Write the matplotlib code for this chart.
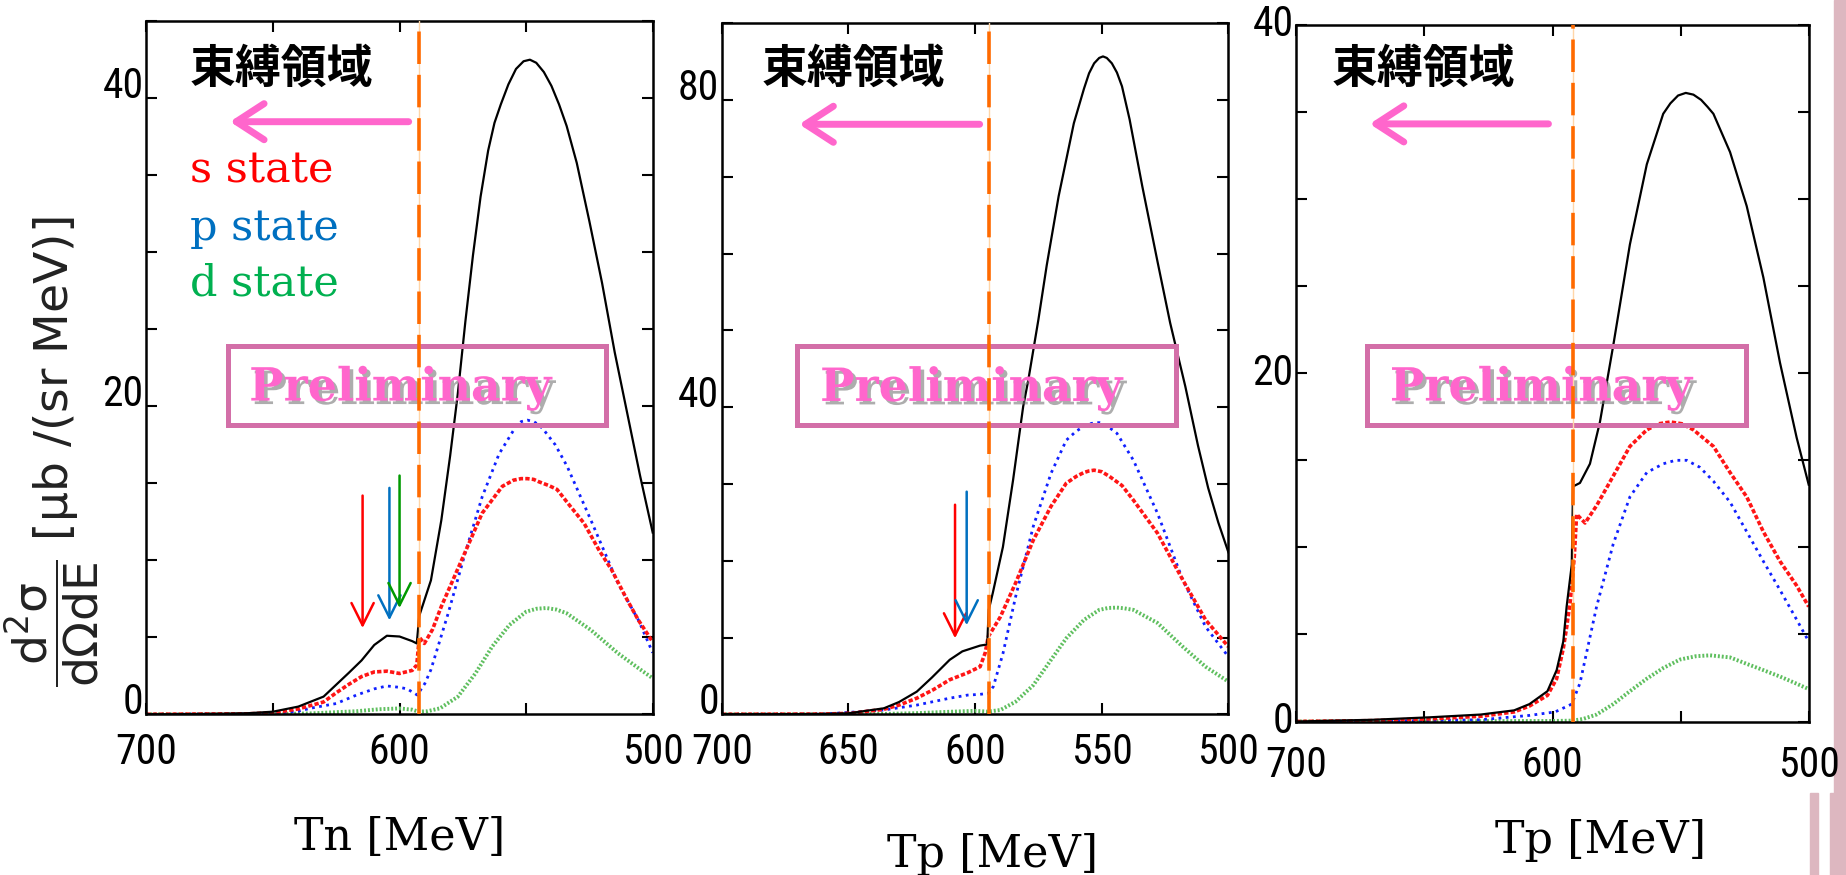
import matplotlib
matplotlib.use('Agg')
import matplotlib.pyplot as plt
import matplotlib.patheffects as pe
from matplotlib import font_manager
from matplotlib.patches import Rectangle

# ---- data ----
# panel 1 (Tn)
p1_blk_E = [700, 690, 680, 670, 660, 650, 640, 630, 620, 615, 610, 605, 600, 595, 593.2, 592.2, 591, 587.6,
            583.5, 580, 577, 574, 571, 568, 565, 562.5, 560, 557, 554, 551, 548.5, 546, 543, 540, 537, 534,
            530, 525, 520, 515, 510, 505, 500]
p1_blk_v = [0, 0, 0.02, 0.04, 0.07, 0.17, 0.5, 1.15, 2.7, 3.5, 4.5, 5.1, 5.05, 4.75, 4.6, 6.4, 7.0, 8.7,
            12.6, 16.8, 20.8, 25.5, 29.8, 33.6, 36.6, 38.4, 39.6, 40.9, 41.9, 42.4, 42.5, 42.3, 41.7, 40.8, 39.6, 38.2,
            35.8, 32, 28, 23.5, 19.5, 15.5, 11.8]
p1_red_E = [700, 660, 650, 640, 630, 625, 620, 615, 610, 605, 600, 595, 593.2, 592.2, 590.2, 587, 583.5,
            575.5, 567.4, 559.4, 555, 552, 549.5, 547, 545, 541, 537.8, 533, 527.1, 521, 516.3, 510, 505.6, 500]
p1_red_v = [0, 0.03, 0.1, 0.35, 0.8, 1.4, 1.95, 2.45, 2.75, 2.8, 2.65, 2.85, 3.2, 5.0, 4.6, 5.5, 7.0,
            10.0, 13.05, 14.8, 15.2, 15.3, 15.3, 15.25, 15.1, 14.85, 14.6, 13.6, 12.4, 10.6, 9.4, 7.4, 6.1, 4.7]
p1_blu_E = [700, 660, 650, 640, 635, 625, 617, 610, 605, 600, 597, 593, 590, 587.6, 580.8, 574.1, 567.4,
            560.7, 554, 552, 549.5, 547, 545, 543.2, 538.5, 533.8, 524.4, 513.7, 505.6, 500]
p1_blu_v = [0, 0.02, 0.05, 0.2, 0.4, 0.7, 1.25, 1.65, 1.84, 1.75, 1.65, 1.25, 2.0, 2.9, 6.55, 10.45, 14.1,
            16.9, 18.7, 19.0, 19.1, 19.0, 18.8, 18.5, 17.5, 16.1, 12.6, 8.5, 6.1, 4.0]
p1_grn_E = [700, 650, 635, 617, 608, 600, 595, 592.5, 589, 584, 577, 570, 563.4, 556.6, 550, 546, 542, 538,
            534, 524.4, 513.7, 505.6, 500]
p1_grn_v = [0, 0.01, 0.06, 0.2, 0.33, 0.38, 0.3, 0.17, 0.2, 0.39, 1.14, 2.66, 4.4, 5.8, 6.66, 6.85, 6.9, 6.8,
            6.56, 5.47, 3.96, 2.99, 2.34]
p1_threshold = 592.5
p1_arrow_E = [614.6, 604.0, 600.0]
p1_arrow_top = [14.2, 14.7, 15.5]
p1_arrow_tip = [5.6, 6.1, 6.9]

# panel 2 (Tp)
p2_blk_E = [700, 680, 660, 650, 636, 630, 623, 617, 610, 605, 598, 595.2, 594.6, 593, 589, 585, 581, 579,
            575, 571.7, 567, 561, 557, 555, 553, 551, 549.5, 548, 546, 544, 542, 539, 534, 528, 523, 517, 512,
            508, 504, 500]
p2_blk_v = [0, 0.01, 0.05, 0.13, 0.78, 1.6, 2.95, 4.8, 7.1, 8.2, 8.95, 9.1, 13.6, 15.8, 21.8, 30.5, 40.1, 43.5,
            51.4, 58.5, 67.5, 77, 81.5, 83.5, 84.8, 85.5, 85.7, 85.5, 84.8, 83.6, 81.8, 77.5, 68.8, 59.0, 51.0, 42.7, 35,
            29.5, 25, 21.1]
p2_red_E = [700, 660, 649, 636, 630, 623, 616.5, 610, 603, 598, 596, 594.8, 590, 584, 577, 570, 564, 560, 557,
            555, 553, 550, 547, 542, 537.5, 528, 518, 509, 500]
p2_red_v = [0, 0.03, 0.13, 0.65, 1.2, 2.1, 3.2, 4.5, 5.4, 6.2, 8.0, 10.1, 12.7, 17.1, 22.7, 27.1, 30.1, 31.0, 31.5,
            31.7, 31.8, 31.6, 31.0, 29.8, 27.9, 23.6, 17.5, 12.3, 8.8]
p2_blu_E = [700, 660, 636, 623, 616.5, 610, 603, 598, 594.8, 592.8, 589, 584, 577, 570, 564, 560, 557, 554, 551,
            548, 544, 537.5, 528, 518, 509, 500]
p2_blu_v = [0, 0.02, 0.56, 1.2, 1.65, 2.1, 2.5, 2.6, 2.74, 3.6, 7.9, 15.3, 24.5, 31.4, 35.7, 36.9, 37.5, 37.9, 38.0,
            37.6, 36.6, 33.1, 26.2, 17.5, 11.4, 7.5]
p2_grn_E = [700, 650, 636, 623, 610, 600, 595, 590, 584, 577, 570, 564, 557, 551, 547.5, 544, 541, 537.5, 528,
            518, 509, 500]
p2_grn_v = [0, 0.01, 0.05, 0.15, 0.33, 0.45, 0.35, 0.56, 1.64, 3.8, 7.1, 9.9, 12.3, 13.6, 13.85, 13.9, 13.8,
            13.6, 11.9, 8.8, 6.2, 4.25]
p2_threshold = 594.6
p2_arrow_E = [607.9, 603.3]
p2_arrow_top = [27.3, 29.0]
p2_arrow_tip = [9.9, 11.6]

# panel 3 (Tp)
p3_blk_E = [700, 670, 648, 628, 615, 609, 602, 598.4, 595.8, 594.5, 592.5, 592, 589.3, 585.4, 581.5, 576.3,
            569.8, 563.2, 556.8, 554, 551, 548, 545, 542, 539.5, 537.2, 530.7, 524.2, 517.7, 511.2, 504.7, 500]
p3_blk_v = [0, 0.1, 0.24, 0.4, 0.64, 1.0, 1.74, 2.95, 4.6, 6.6, 9.0, 13.5, 13.7, 14.8, 17.2, 21.6,
            27.4, 32.0, 34.9, 35.5, 35.95, 36.1, 36.0, 35.7, 35.3, 34.9, 32.7, 29.6, 25.5, 20.6, 16.3, 13.6]
p3_red_E = [700, 670, 648, 628, 615, 609, 602, 598.4, 595.8, 594.5, 593, 591.5, 590.6, 587.3, 582.8, 576.3,
            569.8, 563.2, 558.5, 554, 549.5, 545, 537.2, 530.7, 524.2, 517.7, 511.2, 504.7, 500]
p3_red_v = [0, 0.05, 0.15, 0.3, 0.55, 0.89, 1.5, 2.46, 4.2, 5.4, 7.0, 9.5, 11.9, 11.4, 12.4, 14.1,
            15.8, 16.75, 17.1, 17.2, 17.1, 16.75, 15.8, 14.3, 12.9, 10.9, 9.2, 7.8, 6.6]
p3_blu_E = [700, 660, 628, 609, 599, 592.5, 589.3, 582.8, 576.3, 569.8, 563.2, 556.8, 552, 547.6, 542.5, 537.2,
            530.7, 524.2, 517.7, 511.2, 504.7, 500]
p3_blu_v = [0, 0.03, 0.1, 0.35, 0.55, 1.0, 2.2, 6.6, 10.2, 12.9, 14.3, 14.8, 15.0, 15.0, 14.6, 13.8,
            12.6, 10.9, 9.2, 7.55, 5.85, 4.6]
p3_grn_E = [700, 600, 592, 588, 582.8, 576.3, 569.8, 563.2, 556.8, 550.2, 544, 538.5, 530.7, 524.2, 517.7,
            511.2, 504.7, 500]
p3_grn_v = [0, 0.03, 0.05, 0.15, 0.4, 1.0, 1.74, 2.46, 3.07, 3.56, 3.75, 3.8, 3.68, 3.31, 2.95,
            2.58, 2.17, 1.86]
p3_threshold = 591.9

x_ticks = [700, 650, 600, 550, 500]
p1_xlabels = ['700', '', '600', '', '500']
p2_xlabels = ['700', '650', '600', '550', '500']
p3_xlabels = ['700', '', '600', '', '500']
p1_yticks = [0, 5, 10, 15, 20, 25, 30, 35, 40, 45]
p1_ylabels = ['0', '', '', '', '20', '', '', '', '40', '']
p2_yticks = [0, 10, 20, 30, 40, 50, 60, 70, 80, 90]
p2_ylabels = ['0', '', '', '', '40', '', '', '', '80', '']
p3_yticks = [0, 5, 10, 15, 20, 25, 30, 35, 40]
p3_ylabels = ['0', '', '', '', '20', '', '', '', '40']

region_text = '束縛領域'
state_texts = ['s state', 'p state', 'd state']
state_colors = ['#FF0000', '#0070C0', '#00B050']
arrow_colors = ['#FF0000', '#0070C0', '#009900']

# ---- styling ----
W, H = 1846, 875
names = {f.name for f in font_manager.fontManager.ttflist}
tick_family = 'DejaVu Sans'
for cand in ['Liberation Sans Narrow', 'Roboto Condensed', 'DejaVu Sans Condensed', 'Open Sans Condensed',
             'Roboto']:
    if cand in names:
        tick_family = cand
        break
cjk = ['Noto Sans CJK JP', 'DejaVu Sans']
serif = 'DejaVu Serif'
pink = '#FF66CC'

fig = plt.figure(figsize=(W / 100, H / 100), dpi=100)

# slide decoration at the right edge (behind everything)
deco = '#DDB7C0'
fig.patches.append(Rectangle((1834 / W, 1 - 793 / H), 12 / W, 793 / H, transform=fig.transFigure,
                             color=deco, zorder=-5))
fig.patches.append(Rectangle((1810 / W, 0), 8 / W, 82 / H, transform=fig.transFigure, color=deco, zorder=-5))
fig.patches.append(Rectangle((1830 / W, 0), 16 / W, 82 / H, transform=fig.transFigure, color=deco, zorder=-5))

rects = [(146.4, 21.2, 652.7, 714.3), (721.7, 23.4, 1228.4, 714.3), (1296.4, 25.0, 1808.7, 721.5)]
axes = []
for (x0, y0, x1, y1) in rects:
    axes.append(fig.add_axes([x0 / W, 1 - y1 / H, (x1 - x0) / W, (y1 - y0) / H]))


def draw_panel(ax, series, thr, ylim, yticks, ylabels, xlabels, box, ptext, head, arrow, yva, xpad):
    (bE, bv), (rE, rv), (uE, uv), (gE, gv) = series
    ax.plot(gE, gv, color='#5FBF5F', lw=2.8, ls=(0, (0.5, 0.5)), zorder=2)
    ax.plot(uE, uv, color='#1020FF', lw=2.0, ls=(0, (1, 1.6)), zorder=2)
    ax.plot(rE, rv, color='#FF1515', lw=2.6, ls=(0, (1.2, 0.6)), zorder=2)
    ax.plot(bE, bv, color='black', lw=1.6, zorder=2.5)
    ax.axvline(thr, color='#FFD6A8', lw=1.0, zorder=4)
    ax.axvline(thr, color='#FF6A00', lw=2.6, ls=(0, (9, 3)), zorder=4.1)
    ax.set_xlim(700, 500)
    ax.set_ylim(*ylim)
    ax.set_xticks(x_ticks)
    ax.set_xticklabels(xlabels, family=tick_family, fontsize=30)
    ax.set_yticks(yticks)
    ax.set_yticklabels(ylabels, family=tick_family, fontsize=30, va=yva)
    ax.tick_params(direction='in', length=8, width=1.5, top=True, right=True)
    ax.tick_params(axis='x', pad=xpad)
    ax.tick_params(axis='y', pad=2)
    for s in ax.spines.values():
        s.set_linewidth(1.8)

    bx0, bx1, by0, by1 = box
    ax.add_patch(Rectangle((bx0, by0), bx1 - bx0, by1 - by0, transform=ax.transAxes,
                           fill=False, ec='#D36FA8', lw=3.6, zorder=3))
    ax.text(ptext[0], ptext[1], 'Preliminary', transform=ax.transAxes, ha='center', va='center',
            family=serif, weight='bold', fontsize=33, color=pink, zorder=3.5,
            path_effects=[pe.SimplePatchShadow(offset=(2.5, -2.5), shadow_rgbFace='#777777', alpha=0.6),
                          pe.Normal()])

    ax.text(head[0], head[1], region_text, transform=ax.transAxes, ha='left', va='center',
            family=cjk, fontsize=33, weight='bold', color='black')
    ax.annotate('', xy=(arrow[1], arrow[2]), xytext=(arrow[0], arrow[2]),
                xycoords='axes fraction', textcoords='axes fraction',
                arrowprops=dict(arrowstyle='->,head_length=1.0,head_width=0.65', color=pink,
                                lw=5, mutation_scale=20, shrinkA=0, shrinkB=0, capstyle='round'))


draw_panel(axes[0], [(p1_blk_E, p1_blk_v), (p1_red_E, p1_red_v), (p1_blu_E, p1_blu_v), (p1_grn_E, p1_grn_v)],
           p1_threshold, (0, 45), p1_yticks, p1_ylabels, p1_xlabels,
           (0.161, 0.907, 0.417, 0.531), (0.502, 0.471), (0.086, 0.930), (0.518, 0.165, 0.855),
           'baseline', 13)
draw_panel(axes[1], [(p2_blk_E, p2_blk_v), (p2_red_E, p2_red_v), (p2_blu_E, p2_blu_v), (p2_grn_E, p2_grn_v)],
           p2_threshold, (0, 90), p2_yticks, p2_ylabels, p2_xlabels,
           (0.149, 0.896, 0.419, 0.533), (0.493, 0.472), (0.078, 0.933), (0.509, 0.153, 0.854),
           'baseline', 13)
draw_panel(axes[2], [(p3_blk_E, p3_blk_v), (p3_red_E, p3_red_v), (p3_blu_E, p3_blu_v), (p3_grn_E, p3_grn_v)],
           p3_threshold, (0, 40), p3_yticks, p3_ylabels, p3_xlabels,
           (0.138, 0.878, 0.426, 0.539), (0.478, 0.479), (0.069, 0.936), (0.492, 0.143, 0.858),
           'center', 17)

# state labels and arrows on panels 1 and 2
for txt, c, yb in zip(state_texts, state_colors, [0.767, 0.684, 0.604]):
    axes[0].text(0.086, yb, txt, transform=axes[0].transAxes, ha='left', va='baseline',
                 family=serif, fontsize=31, color=c)
for E, top, tip, c in zip(p1_arrow_E, p1_arrow_top, p1_arrow_tip, arrow_colors):
    axes[0].annotate('', xy=(E, tip), xytext=(E, top),
                     arrowprops=dict(arrowstyle='->,head_length=0.8,head_width=0.4', color=c,
                                     lw=1.8, mutation_scale=20, shrinkA=0, shrinkB=0))
for E, top, tip, c in zip(p2_arrow_E, p2_arrow_top, p2_arrow_tip, arrow_colors):
    axes[1].annotate('', xy=(E, tip), xytext=(E, top),
                     arrowprops=dict(arrowstyle='->,head_length=0.8,head_width=0.4', color=c,
                                     lw=1.8, mutation_scale=20, shrinkA=0, shrinkB=0))

# axis titles
fig.text(52 / W, 1 - 452 / H,
         r'$\dfrac{\mathrm{d^2σ}}{\mathrm{dΩdE}}$ [μb /(sr MeV)]',
         rotation=90, ha='center', va='center', fontsize=34, color='#222222')
fig.text(400 / W, 1 - 837 / H, 'Tn [MeV]', ha='center', va='center', family=serif, fontsize=32)
fig.text(993 / W, 1 - 854 / H, 'Tp [MeV]', ha='center', va='center', family=serif, fontsize=32)
fig.text(1601 / W, 1 - 840 / H, 'Tp [MeV]', ha='center', va='center', family=serif, fontsize=32)

fig.savefig('out.png', dpi=100)
